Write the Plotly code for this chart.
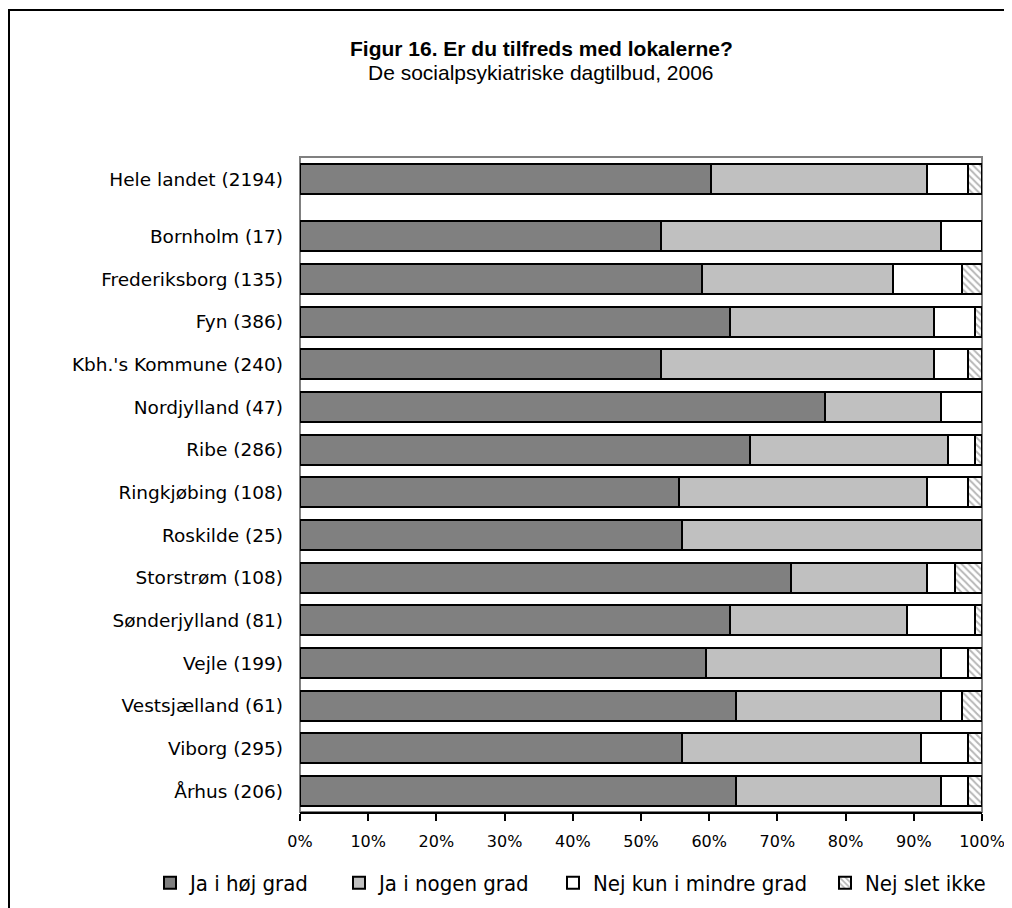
import plotly.graph_objects as go

categories = ["Hele landet (2194)", "Bornholm (17)", "Frederiksborg (135)", "Fyn (386)",
              "Kbh.'s Kommune (240)", "Nordjylland (47)", "Ribe (286)", "Ringkjøbing (108)",
              "Roskilde (25)", "Storstrøm (108)", "Sønderjylland (81)", "Vejle (199)",
              "Vestsjælland (61)", "Viborg (295)", "Århus (206)"]

ja_hoej = [60.3, 53, 59, 63, 53, 77, 66, 55.5, 56, 72, 63, 59.5, 64, 56, 64]
ja_nogen = [31.7, 41, 28, 30, 40, 17, 29, 36.5, 44, 20, 26, 34.5, 30, 35, 30]
nej_mindre = [6, 6, 10, 6, 5, 6, 4, 6, 0, 4, 10, 4, 3, 7, 4]
nej_slet = [2, 0, 3, 1, 2, 0, 1, 2, 0, 4, 1, 2, 3, 2, 2]

series_names = ["Ja i høj grad", "Ja i nogen grad", "Nej kun i mindre grad", "Nej slet ikke"]
x_ticks = [0, 10, 20, 30, 40, 50, 60, 70, 80, 90, 100]

# vertical slots: regions evenly spaced, "Hele landet" set apart above them
n_reg = len(categories) - 1
group_gap = 1.34
y_pos = [n_reg - 1 + group_gap] + [n_reg - 1 - i for i in range(n_reg)]

# figure geometry (page has an 8px body margin)
OFF = 8
W, H = 1012 - OFF, 908 - OFF
PL, PR, PT, PB = 300 - OFF, 982 - OFF, 157 - OFF, 812 - OFF
PW, PH = PR - PL, PB - PT


def px(xp):
    return (xp - OFF - PL) / PW


def py(yp):
    return (PB - (yp - OFF)) / PH


fig = go.Figure()
styles = [
    dict(color="#808080"),
    dict(color="#c0c0c0"),
    dict(color="#ffffff"),
    dict(color="#ffffff", pattern=dict(shape="\\", fgcolor="#707070", bgcolor="#ffffff",
                                       size=5, solidity=0.4)),
]
legend_widths = [144, 169, 227, 140]
for name, vals, st, lw in zip(series_names, [ja_hoej, ja_nogen, nej_mindre, nej_slet],
                              styles, legend_widths):
    fig.add_trace(go.Bar(
        x=[v / 100 for v in vals], y=y_pos, orientation="h", name=name,
        width=0.7, legendwidth=lw,
        marker=dict(line=dict(color="black", width=2), **st),
    ))

fig.update_layout(
    width=W, height=H,
    barmode="stack",
    paper_bgcolor="white", plot_bgcolor="white",
    margin=dict(l=PL, r=W - PR, t=PT, b=H - PB, pad=0, autoexpand=False),
    showlegend=True,
    legend=dict(orientation="h", xref="paper", yref="paper",
                x=px(150), xanchor="left",
                y=py(883), yanchor="middle",
                font=dict(family="DejaVu Sans Condensed, Liberation Sans Narrow, DejaVu Sans",
                          size=22, color="black"),
                itemwidth=30, traceorder="normal", bgcolor="rgba(0,0,0,0)"),
    font=dict(family="DejaVu Sans", color="black"),
)

fig.update_xaxes(
    range=[0, 1], tickvals=[t / 100 for t in x_ticks], ticktext=[f"{t}%" for t in x_ticks],
    ticks="outside", ticklen=7, tickwidth=2, tickcolor="black",
    showline=True, linecolor="black", linewidth=2, showgrid=False, zeroline=False,
    tickfont=dict(family="DejaVu Sans", size=16, color="black"),
    ticklabelstandoff=7,
)
fig.update_yaxes(
    range=[-0.49, n_reg - 1 + group_gap + 0.52], tickvals=y_pos, ticktext=categories,
    showgrid=False, zeroline=False, showline=False, ticks="",
    ticklabelstandoff=16,
    tickfont=dict(family="DejaVu Sans", size=18.5, color="black"),
)

# plot area border (grey) and outer frame
fig.add_shape(type="rect", xref="paper", yref="paper", x0=0, x1=1, y0=0, y1=1,
              line=dict(color="#808080", width=2), layer="below")
fig.add_shape(type="rect", xref="paper", yref="paper",
              x0=px(9), x1=px(1040), y0=py(940), y1=py(10),
              line=dict(color="black", width=2), layer="below")

fig.add_annotation(xref="paper", yref="paper", x=px(541), y=py(48),
                   text="<b>Figur 16. Er du tilfreds med lokalerne?</b>", showarrow=False,
                   font=dict(family="Liberation Sans, Arial", size=21, color="black"),
                   xanchor="center", yanchor="middle")
fig.add_annotation(xref="paper", yref="paper", x=px(541), y=py(73),
                   text="De socialpsykiatriske dagtilbud, 2006", showarrow=False,
                   font=dict(family="Liberation Sans, Arial", size=21, color="black"),
                   xanchor="center", yanchor="middle")

fig.write_html("out.html")
